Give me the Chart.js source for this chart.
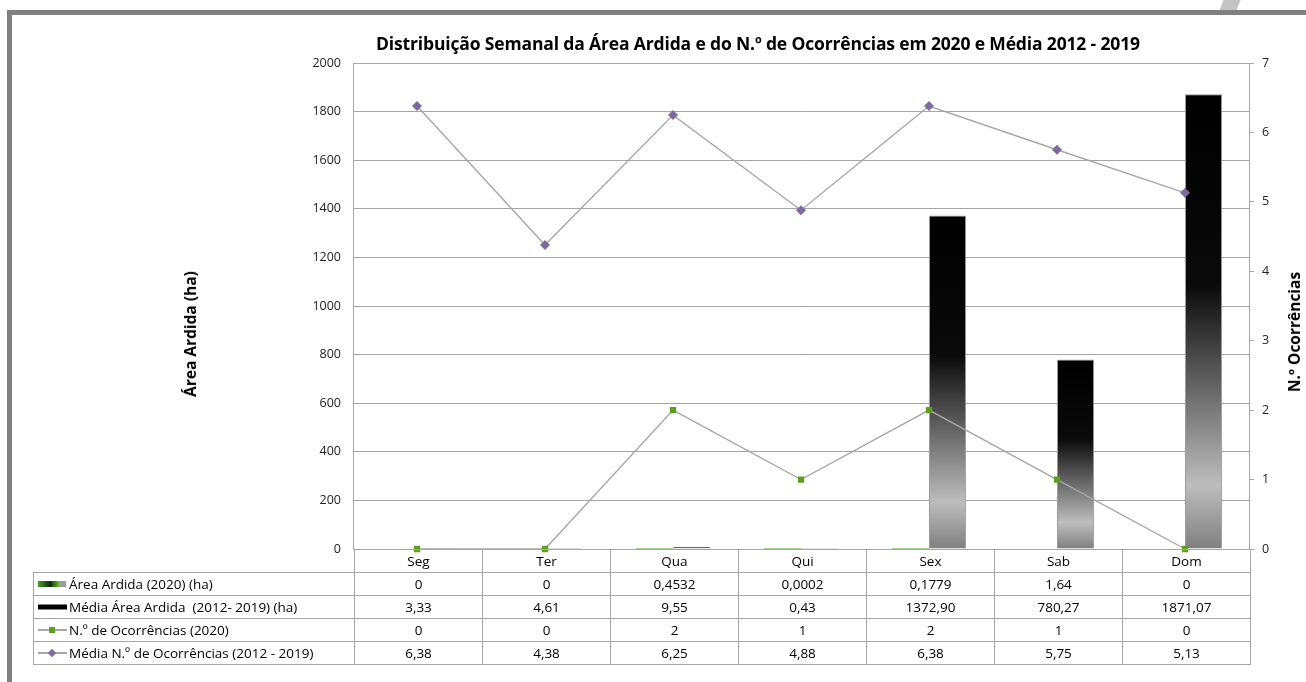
<!DOCTYPE html>
<html>
<head>
<meta charset="utf-8">
<script src="https://cdn.jsdelivr.net/npm/chart.js@4"></script>
<style>
  html, body { margin: 0; padding: 0; background: #fff; }
  body { width: 1306px; height: 682px; position: relative; overflow: hidden; font-family: "Open Sans", "Noto Sans", sans-serif; }
  #wrap { position: absolute; left: 0; top: 0; width: 1306px; height: 682px; }
  .frame-top { position: absolute; left: 7px; top: 10px; width: 1299px; height: 5px; background: #808080; }
  .frame-left { position: absolute; left: 7px; top: 10px; width: 5px; height: 672px; background: #808080; }
  .corner { position: absolute; left: 1222px; top: -2px; width: 17px; height: 12px; background: #c4c4c4; transform: skewX(-22deg); }
  #title { position: absolute; left: 353px; width: 810px; top: 31px; text-align: center; font-weight: bold; font-size: 17.5px; color: #000; white-space: nowrap; letter-spacing: -0.15px; }
  .ytitle { position: absolute; font-weight: bold; font-size: 15.5px; color: #000; white-space: nowrap; transform: translate(-50%, -50%) rotate(-90deg); }
  #tbl { position: absolute; left: 33px; top: 549px; border-collapse: collapse; font-size: 13.5px; color: #000; table-layout: fixed; }
  #tbl td { border: 1px solid #a6a6a6; height: 22px; padding: 0; text-align: center; width: 127px; line-height: 22px; }
  #tbl td.lab { width: 319px; text-align: left; padding-left: 1px; white-space: pre; }
  #tbl td.blank { border: none; border-right: 1px solid #a6a6a6; }
  .key { display: inline-block; vertical-align: middle; margin-right: 2px; position: relative; top: -1px; }
</style>
</head>
<body>
<div id="wrap"><canvas id="c" width="1306" height="682"></canvas></div>
<div class="frame-top"></div>
<div class="frame-left"></div>
<div class="corner"></div>
<div id="title">Distribuição Semanal da Área Ardida e do N.º de Ocorrências em 2020 e Média 2012 - 2019</div>
<div class="ytitle" style="left:190px; top:334px;">Área Ardida (ha)</div>
<div class="ytitle" style="left:1294px; top:332px;">N.º Ocorrências</div>
<table id="tbl"></table>
<script>
const days = ["Seg", "Ter", "Qua", "Qui", "Sex", "Sab", "Dom"];
const areaArdida2020 = [0, 0, 0.4532, 0.0002, 0.1779, 1.64, 0];
const mediaAreaArdida = [3.33, 4.61, 9.55, 0.43, 1372.90, 780.27, 1871.07];
const ocorrencias2020 = [0, 0, 2, 1, 2, 1, 0];
const mediaOcorrencias = [6.38, 4.38, 6.25, 4.88, 6.38, 5.75, 5.13];

const areaLabels = ["0", "0", "0,4532", "0,0002", "0,1779", "1,64", "0"];
const fmt2 = v => v.toFixed(2).replace(".", ",");

const seriesNames = [
  "Área Ardida (2020) (ha)",
  "Média Área Ardida  (2012- 2019) (ha)",
  "N.º de Ocorrências (2020)",
  "Média N.º de Ocorrências (2012 - 2019)"
];

// vertical black -> grey fade, fitted to each bar's own height
function greyBar(ctx) {
  const chart = ctx.chart;
  if (ctx.type !== "data") return "#000";
  const y = chart.scales.y;
  const top = y.getPixelForValue(ctx.raw);
  const base = y.getPixelForValue(0);
  if (!(base - top > 1)) return "#808080";
  const g = chart.ctx.createLinearGradient(0, top, 0, base);
  g.addColorStop(0, "#000");
  g.addColorStop(0.42, "#0a0a0a");
  g.addColorStop(0.86, "#bdbdbd");
  g.addColorStop(1, "#7f7f7f");
  return g;
}

function greenBar(ctx) {
  const chart = ctx.chart;
  const el = ctx.element;
  if (!el || !el.width) return "#4aa02c";
  const g = chart.ctx.createLinearGradient(el.x - el.width / 2, 0, el.x + el.width / 2, 0);
  g.addColorStop(0, "#4aa02c");
  g.addColorStop(0.5, "#0b2a06");
  g.addColorStop(1, "#6fd13b");
  return g;
}

const tickFont = { family: "Open Sans", size: 12.5 };

const chart = new Chart(document.getElementById("c"), {
  data: {
    labels: days,
    datasets: [
      {
        type: "line",
        label: seriesNames[3],
        data: mediaOcorrencias,
        yAxisID: "y2",
        borderColor: "#a6a6a6",
        borderWidth: 1.4,
        pointStyle: "rectRot",
        pointRadius: 4,
        pointBackgroundColor: "#7f6a9e",
        pointBorderColor: "#7f6a9e",
        tension: 0,
        clip: false,
        order: 0
      },
      {
        type: "line",
        label: seriesNames[2],
        data: ocorrencias2020,
        yAxisID: "y2",
        borderColor: "#a6a6a6",
        borderWidth: 1.4,
        pointStyle: "rect",
        pointRadius: 3.5,
        pointBackgroundColor: "#5f9e1f",
        pointBorderColor: "#5f9e1f",
        tension: 0,
        clip: false,
        order: 1
      },
      {
        type: "bar",
        label: seriesNames[0],
        data: areaArdida2020,
        yAxisID: "y",
        backgroundColor: greenBar,
        categoryPercentage: 0.58,
        barPercentage: 1,
        order: 2
      },
      {
        type: "bar",
        label: seriesNames[1],
        data: mediaAreaArdida,
        yAxisID: "y",
        backgroundColor: greyBar,
        borderColor: "#9a9a9a",
        borderWidth: 1,
        categoryPercentage: 0.58,
        barPercentage: 1,
        order: 3
      }
    ]
  },
  options: {
    responsive: false,
    animation: false,
    layout: { padding: { top: 63, right: 0, bottom: 133, left: 0 } },
    plugins: {
      legend: { display: false },
      tooltip: { enabled: false }
    },
    scales: {
      x: {
        display: false,
        offset: true
      },
      y: {
        position: "left",
        min: 0,
        max: 2000,
        ticks: { stepSize: 200, padding: 12, color: "#222", font: tickFont, callback: v => String(v) },
        grid: { color: "#a6a6a6", lineWidth: 1, drawTicks: false },
        border: { display: true, color: "#a6a6a6" },
        afterFit: s => { s.width = 353; }
      },
      y2: {
        position: "right",
        min: 0,
        max: 7,
        ticks: { stepSize: 1, padding: 8, color: "#222", font: tickFont, callback: v => String(v) },
        grid: { drawOnChartArea: false, color: "#a6a6a6", tickLength: 5 },
        border: { display: true, color: "#a6a6a6" },
        afterFit: s => { s.width = 57; }
      }
    }
  }
});

// data table under the plot
const keys = [
  '<svg class="key" width="32" height="8"><defs><linearGradient id="gk"><stop offset="0" stop-color="#4aa02c"/><stop offset="0.55" stop-color="#0b2a06"/><stop offset="1" stop-color="#6fd13b"/></linearGradient></defs><rect x="3" y="1" width="22" height="6" fill="url(#gk)"/><rect x="25" y="1" width="6" height="6" fill="#9a9a9a"/></svg>',
  '<svg class="key" width="32" height="8"><rect x="3" y="1.5" width="29" height="5" fill="#000"/></svg>',
  '<svg class="key" width="32" height="8"><line x1="3" y1="4" x2="32" y2="4" stroke="#8a8a8a" stroke-width="1.5"/><rect x="14" y="1" width="6" height="6" fill="#5f9e1f"/></svg>',
  '<svg class="key" width="32" height="8"><line x1="3" y1="4" x2="32" y2="4" stroke="#8a8a8a" stroke-width="1.5"/><rect x="14" y="1" width="6" height="6" fill="#7f6a9e" transform="rotate(45 17 4)"/></svg>'
];
const rows = [
  areaLabels,
  mediaAreaArdida.map(fmt2),
  ocorrencias2020.map(String),
  mediaOcorrencias.map(fmt2)
];
let html = '<tr><td class="lab blank"></td>' + days.map(d => "<td>" + d + "</td>").join("") + "</tr>";
rows.forEach((r, i) => {
  html += '<tr><td class="lab">' + keys[i] + seriesNames[i] + "</td>" + r.map(v => "<td>" + v + "</td>").join("") + "</tr>";
});
document.getElementById("tbl").innerHTML = html;
</script>
</body>
</html>
